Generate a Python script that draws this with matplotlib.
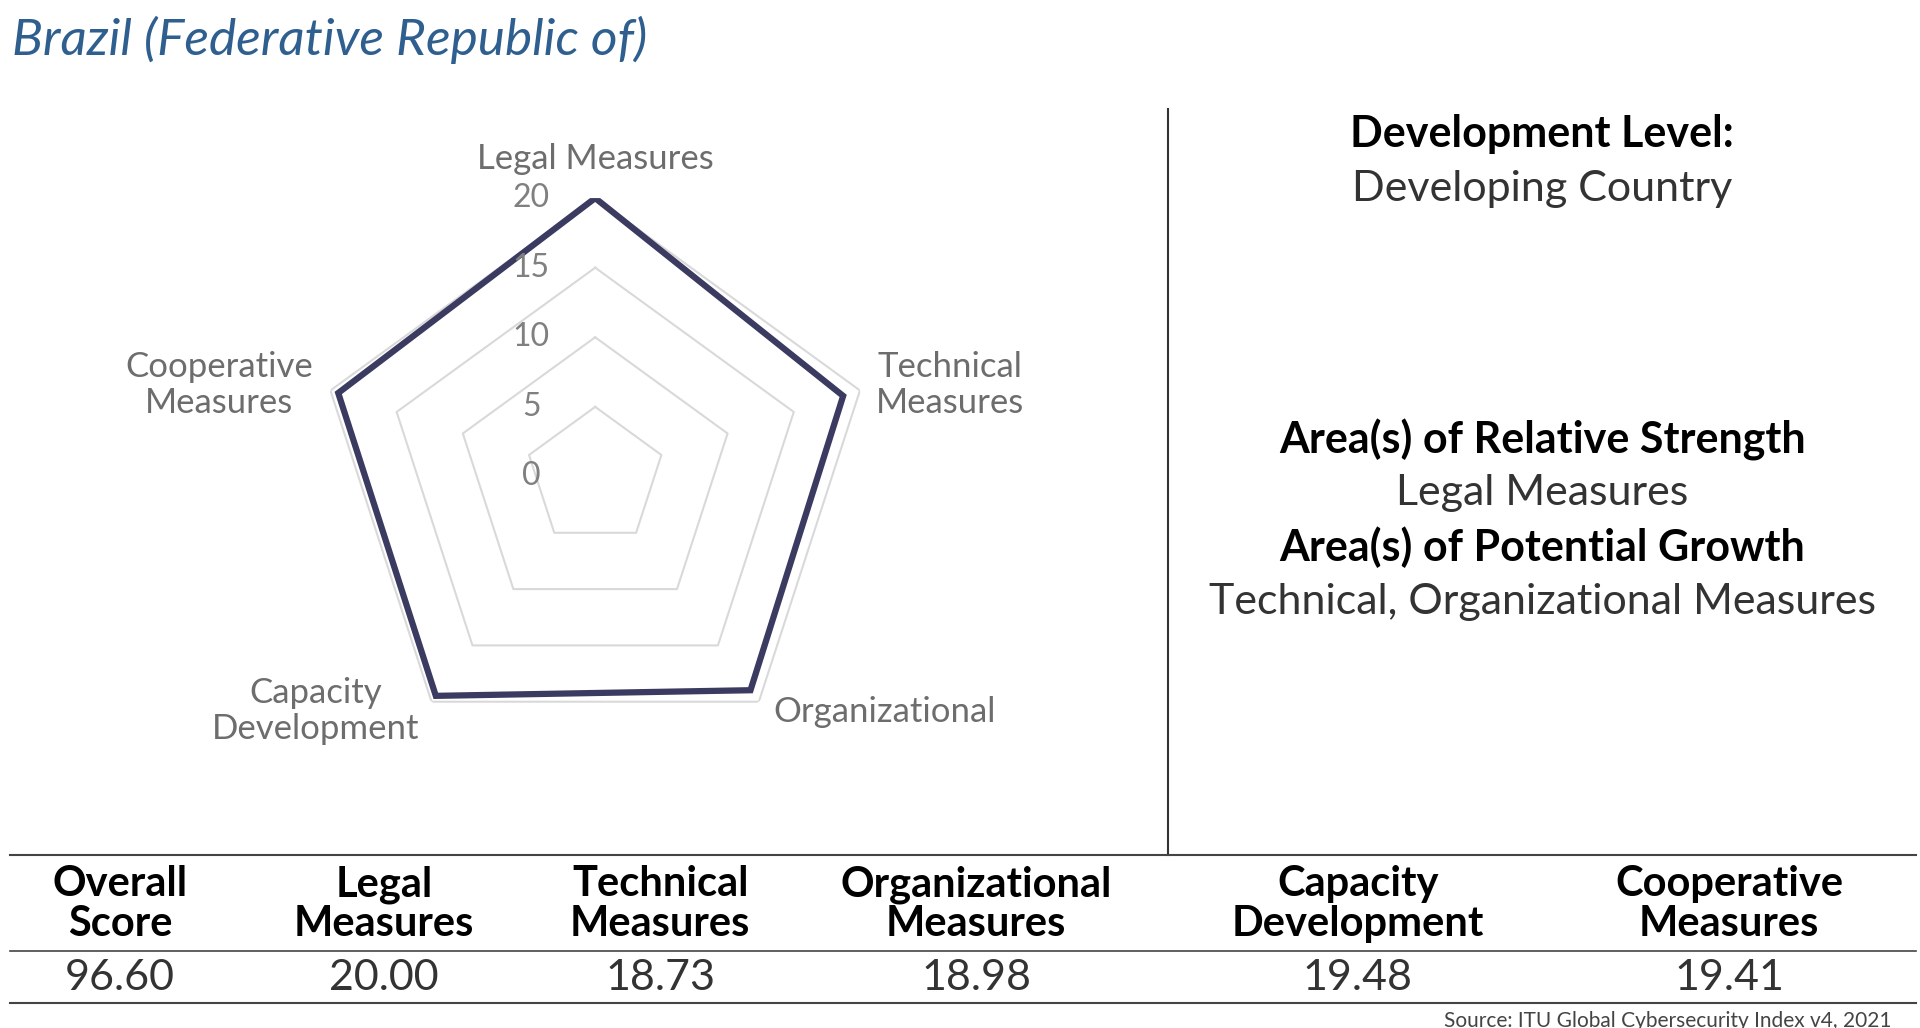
import numpy as np
import matplotlib.pyplot as plt

plt.rcParams['font.family'] = ['Lato', 'DejaVu Sans']

# data
categories = ['Legal Measures', 'Technical\nMeasures', 'Organizational',
              'Capacity\nDevelopment', 'Cooperative\nMeasures']
values = [20.00, 18.73, 18.98, 19.48, 19.41]
grid_levels = [5, 10, 15, 20]
tick_labels = ['0', '5', '10', '15', '20']
table_headers = ['Overall\nScore', 'Legal\nMeasures', 'Technical\nMeasures',
                 'Organizational\nMeasures', 'Capacity\nDevelopment', 'Cooperative\nMeasures']
table_values = ['96.60', '20.00', '18.73', '18.98', '19.48', '19.41']

W, H = 1550, 830  # reference layout units
def fx(x): return x / W
def fy(y): return 1 - y / H

fig = plt.figure(figsize=(19.2, 10.28), dpi=100)

fig.text(fx(10), fy(32), 'Brazil (Federative Republic of)', fontsize=37, style='italic',
         color='#2f5f8f', va='center', ha='left')

# radar
ax = fig.add_axes([0.165, 0.265, 0.29, 0.543], projection='polar')
ax.set_theta_zero_location('N')
ax.set_theta_direction(-1)
ang = np.linspace(0, 2 * np.pi, len(values), endpoint=False)
ang_c = np.append(ang, ang[0])
for g in grid_levels:
    ax.plot(ang_c, [g] * len(ang_c), color='#d9d9d9', lw=1.5)
v = values + values[:1]
ax.plot(ang_c, v, color='#3b3a60', lw=4.5, solid_joinstyle='miter')
ax.set_ylim(0, 20)
ax.grid(False)
ax.spines['polar'].set_visible(False)
ax.set_xticks([])
ax.set_yticks([])
ax.patch.set_alpha(0)
for i, t in enumerate(tick_labels):
    ax.annotate(t, (0, i * 5), xytext=(-46, 0), textcoords='offset points',
                fontsize=23, color='#808080', ha='center', va='center')

lab_pos = [(481, 128, 'center'), (767, 311, 'center'), (714, 575, 'center'),
           (255, 574, 'center'), (177, 311, 'center')]
for (x, y, ha), c in zip(lab_pos, categories):
    fig.text(fx(x), fy(y), c, fontsize=25, color='#6d6d6d', ha=ha, va='center',
             linespacing=1.15)

# divider
fig.add_artist(plt.Line2D([fx(943), fx(943)], [fy(88), fy(690)], color='#333333', lw=1.5))

rx = fx(1245)
right = [(108, 'Development Level:', 'bold'), (153, 'Developing Country', 'normal'),
         (355, 'Area(s) of Relative Strength', 'bold'), (398, 'Legal Measures', 'normal'),
         (442, 'Area(s) of Potential Growth', 'bold'),
         (486, 'Technical, Organizational Measures', 'normal')]
for y, s, w in right:
    fig.text(rx, fy(y), s, fontsize=31, weight=w, color='black' if w == 'bold' else '#333333',
             ha='center', va='center')

# table
for y, lw in [(690, 1.5), (768, 1.2), (810, 1.5)]:
    fig.add_artist(plt.Line2D([fx(8), fx(1547)], [fy(y), fy(y)], color='#444444', lw=lw))
col_x = [97, 310, 533, 788, 1096, 1396]
for x, h, val in zip(col_x, table_headers, table_values):
    fig.text(fx(x), fy(730), h, fontsize=30, weight='bold', ha='center', va='center',
             linespacing=1.05)
    fig.text(fx(x), fy(790), val, fontsize=31, color='#333333', ha='center', va='center')

fig.text(fx(1527), fy(824), 'Source: ITU Global Cybersecurity Index v4, 2021',
         fontsize=15, color='#444444', ha='right', va='center')

fig.savefig('out.png', dpi=100, facecolor='white')
